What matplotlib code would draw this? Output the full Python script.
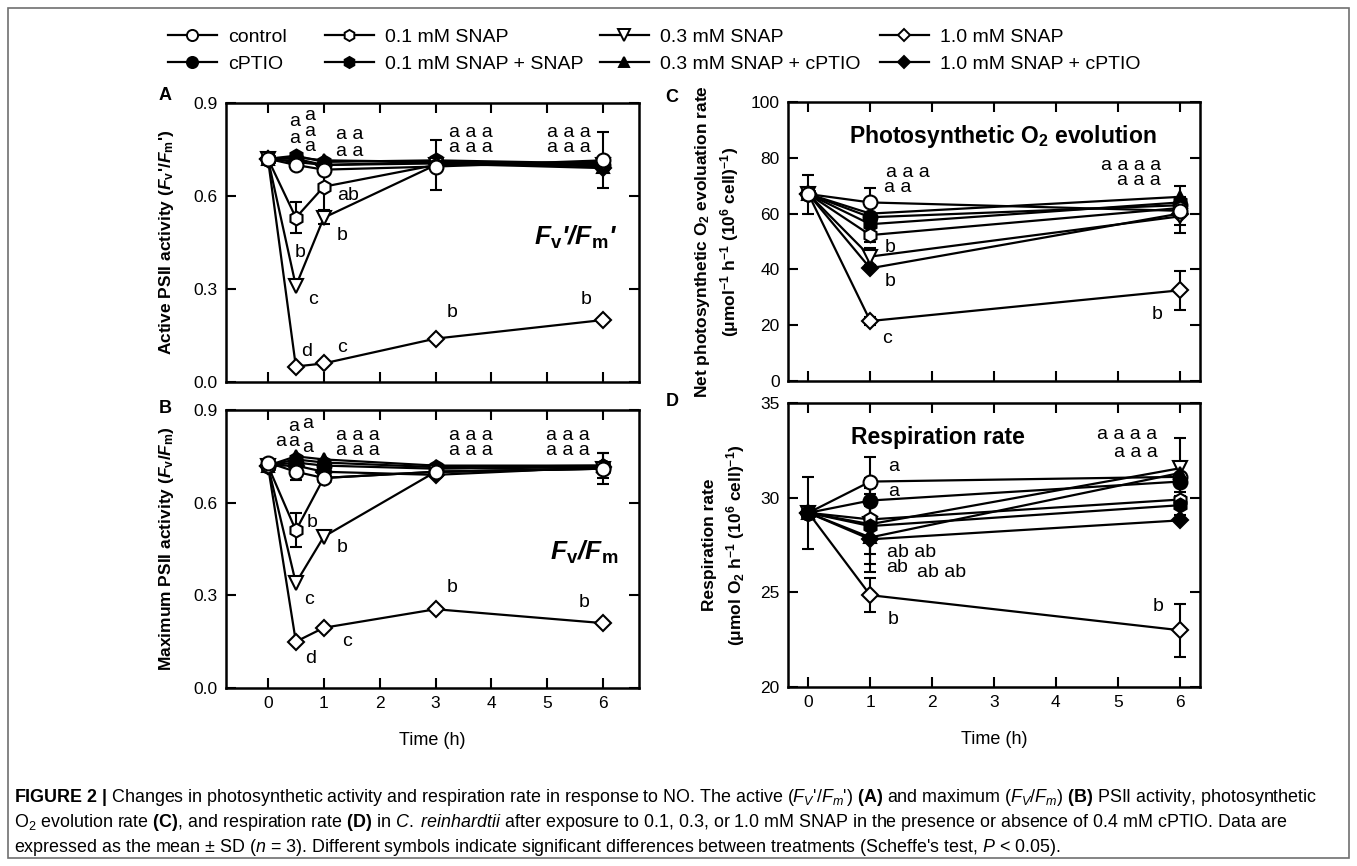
import numpy as np
import matplotlib.pyplot as plt
from matplotlib.lines import Line2D
from matplotlib.patches import Rectangle
from matplotlib import font_manager

plt.rcParams['font.family'] = ['Liberation Sans', 'DejaVu Sans']
plt.rcParams['mathtext.fontset'] = 'custom'
plt.rcParams['mathtext.rm'] = 'Liberation Sans'
plt.rcParams['mathtext.it'] = 'Liberation Sans:italic'
plt.rcParams['mathtext.bf'] = 'Liberation Sans:bold'
plt.rcParams['mathtext.bfit'] = 'Liberation Sans:italic:bold'
plt.rcParams['mathtext.sf'] = 'Liberation Sans'

# ---- data ----
keys = ['control', 'cPTIO', 'snap01', 'snap01c', 'snap03', 'snap03c', 'snap10', 'snap10c']
labels = ['control', 'cPTIO', '0.1 mM SNAP', '0.1 mM SNAP + SNAP',
          '0.3 mM SNAP', '0.3 mM SNAP + cPTIO', '1.0 mM SNAP', '1.0 mM SNAP + cPTIO']

time_ab = [0, 0.5, 1, 3, 6]
time_cd = [0, 1, 6]

# A: active PSII activity Fv'/Fm'
fvfm_act = {
    'control': [0.72, 0.70, 0.685, 0.695, 0.715],
    'cPTIO':   [0.72, 0.72, 0.70, 0.71, 0.70],
    'snap01':  [0.72, 0.53, 0.63, 0.70, 0.71],
    'snap01c': [0.72, 0.73, 0.71, 0.715, 0.705],
    'snap03':  [0.72, 0.31, 0.53, 0.70, 0.70],
    'snap03c': [0.72, 0.725, 0.715, 0.71, 0.695],
    'snap10':  [0.72, 0.05, 0.06, 0.14, 0.20],
    'snap10c': [0.72, 0.71, 0.70, 0.705, 0.69],
}
fvfm_act_err = {
    'control': [0, 0, 0, 0, 0.09],
    'snap01':  [0, 0.05, 0.075, 0.08, 0],
    'snap03':  [0, 0, 0.02, 0, 0],
}

# B: maximum PSII activity Fv/Fm
fvfm_max = {
    'control': [0.73, 0.70, 0.68, 0.70, 0.71],
    'cPTIO':   [0.72, 0.73, 0.72, 0.71, 0.715],
    'snap01':  [0.72, 0.51, 0.68, 0.70, 0.71],
    'snap01c': [0.72, 0.74, 0.73, 0.715, 0.72],
    'snap03':  [0.72, 0.34, 0.49, 0.70, 0.71],
    'snap03c': [0.72, 0.75, 0.74, 0.72, 0.72],
    'snap10':  [0.72, 0.15, 0.195, 0.255, 0.21],
    'snap10c': [0.72, 0.72, 0.70, 0.69, 0.715],
}
fvfm_max_err = {
    'control': [0, 0.025, 0.01, 0, 0.05],
    'snap01':  [0, 0.055, 0, 0, 0],
    'snap01c': [0, 0, 0, 0, 0.04],
}

# C: net photosynthetic O2 evolution
o2_evol = {
    'control': [67, 64, 61],
    'cPTIO':   [67, 58.7, 63],
    'snap01':  [67, 52.3, 62],
    'snap01c': [67, 56.2, 64],
    'snap03':  [67, 44.6, 59],
    'snap03c': [67, 60, 66],
    'snap10':  [67, 21.5, 32.5],
    'snap10c': [67, 40.4, 60],
}
o2_evol_err = {
    'control': [7, 5, 5],
    'snap01':  [0, 2.5, 0],
    'snap03':  [0, 3, 6],
    'snap03c': [0, 0, 4],
    'snap10':  [0, 1.5, 7],
}

# D: respiration rate
resp = {
    'control': [29.2, 30.85, 31.1],
    'cPTIO':   [29.2, 29.85, 30.85],
    'snap01':  [29.2, 28.85, 29.9],
    'snap01c': [29.2, 28.5, 29.6],
    'snap03':  [29.2, 28.6, 31.55],
    'snap03c': [29.2, 27.9, 31.3],
    'snap10':  [29.2, 24.85, 23.0],
    'snap10c': [29.2, 27.8, 28.8],
}
resp_err = {
    'cPTIO':   [1.9, 1.2, 0],
    'control': [0, 1.3, 0.8],
    'snap03':  [0, 1.6, 1.6],
    'snap03c': [0, 1.8, 0],
    'snap01c': [0, 2.0, 0.5],
    'snap10':  [0, 0.9, 1.4],
}

# significance letters (x, y, text)
letters_a = [(0.48, 0.840, 'a'), (0.75, 0.861, 'a'), (0.48, 0.786, 'a'), (0.75, 0.807, 'a'),
             (0.75, 0.759, 'a'), (1.46, 0.797, 'a a'), (1.46, 0.743, 'a a'),
             (3.63, 0.806, 'a a a'), (3.63, 0.755, 'a a a'), (5.38, 0.806, 'a a a'),
             (5.38, 0.755, 'a a a'), (1.43, 0.603, 'ab'), (1.32, 0.474, 'b'),
             (0.57, 0.419, 'b'), (0.80, 0.265, 'c'), (0.70, 0.097, 'd'), (1.32, 0.110, 'c'),
             (3.30, 0.223, 'b'), (5.70, 0.265, 'b')]
letters_b = [(0.46, 0.846, 'a'), (0.71, 0.857, 'a'), (0.23, 0.797, 'a'), (0.46, 0.797, 'a'),
             (0.71, 0.777, 'a'), (1.61, 0.819, 'a a a'), (1.61, 0.770, 'a a a'),
             (3.64, 0.819, 'a a a'), (3.64, 0.770, 'a a a'), (5.36, 0.819, 'a a a'),
             (5.36, 0.770, 'a a a'), (0.80, 0.537, 'b'), (1.33, 0.456, 'b'),
             (0.73, 0.285, 'c'), (1.42, 0.149, 'c'), (0.77, 0.097, 'd'),
             (3.29, 0.324, 'b'), (5.66, 0.278, 'b')]
letters_c = [(1.60, 74.9, 'a a a'), (1.44, 69.2, 'a a'), (1.32, 48.0, 'b'), (1.32, 35.5, 'b'),
             (1.27, 15.4, 'c'), (5.21, 77.4, 'a a a a'), (5.34, 72.0, 'a a a'), (5.63, 23.7, 'b')]
letters_d = [(1.37, 31.62, 'a'), (1.37, 30.30, 'a'), (1.66, 27.13, 'ab ab'), (1.44, 26.29, 'ab'),
             (2.16, 26.07, 'ab ab'), (1.37, 23.54, 'b'), (5.15, 33.31, 'a a a a'),
             (5.29, 32.41, 'a a a'), (5.65, 24.23, 'b')]

# ---- styles ----
marker = {'control': 'o', 'cPTIO': 'o', 'snap01': 'h', 'snap01c': 'h',
          'snap03': 'v', 'snap03c': '^', 'snap10': 'D', 'snap10c': 'D'}
face = {'control': 'white', 'cPTIO': 'black', 'snap01': 'white', 'snap01c': 'black',
        'snap03': 'white', 'snap03c': 'black', 'snap10': 'white', 'snap10c': 'black'}
msize = {'o': 10, 'h': 10, 'v': 10, '^': 9, 'D': 8}

W, H = 1357, 866
fig = plt.figure(figsize=(W / 100, H / 100), dpi=100)
fig.patches.append(Rectangle((8 / W, 1 - 858 / H), (1349 - 8) / W, (858 - 8) / H,
                             transform=fig.transFigure, fill=False, ec='#707070', lw=1.2))


def box(l, t, r, b):
    return [l / W, 1 - b / H, (r - l) / W, (b - t) / H]


axA = fig.add_axes(box(226, 103, 639, 382))
axB = fig.add_axes(box(226, 410, 639, 688))
axC = fig.add_axes(box(788, 102, 1200, 381))
axD = fig.add_axes(box(788, 403, 1200, 687))


def draw(ax, t, vals, errs, order):
    for k in order:
        e = np.array(errs.get(k, [0] * len(t)), dtype=float)
        idx = e > 0
        if idx.any():
            ax.errorbar(np.array(t)[idx], np.array(vals[k])[idx], yerr=e[idx], fmt='none',
                        ecolor='k', elinewidth=1.5, capsize=4, capthick=1.5, zorder=1)
        ax.plot(t, vals[k], color='k', lw=1.6, marker=marker[k], ms=msize[marker[k]],
                mfc=face[k], mec='k', mew=1.5, zorder=2, clip_on=False)


def style(ax, ylim, yticks, fmt, xlabels):
    ax.set_ylim(*ylim)
    ax.set_yticks(yticks)
    ax.set_yticklabels([fmt.format(v) for v in yticks])
    ax.set_xticks(range(7))
    if not xlabels:
        ax.set_xticklabels([])
    ax.tick_params(direction='in', top=True, right=True, length=7, width=1.5,
                   labelsize=12.5, pad=6)
    for s in ax.spines.values():
        s.set_linewidth(1.8)


order_main = ['snap10c', 'snap03c', 'snap01c', 'cPTIO', 'snap10', 'snap03', 'snap01', 'control']
order_d = ['snap10', 'snap03', 'snap01', 'control', 'snap10c', 'snap03c', 'snap01c', 'cPTIO']

draw(axA, time_ab, fvfm_act, fvfm_act_err, order_main)
draw(axB, time_ab, fvfm_max, fvfm_max_err, order_main)
draw(axC, time_cd, o2_evol, o2_evol_err, order_main)
draw(axD, time_cd, resp, resp_err, order_d)

for ax in (axA, axB):
    ax.set_xlim(-0.75, 6.64)
for ax in (axC, axD):
    ax.set_xlim(-0.33, 6.33)

style(axA, (0, 0.9), [0, 0.3, 0.6, 0.9], '{:.1f}', False)
style(axB, (0, 0.9), [0, 0.3, 0.6, 0.9], '{:.1f}', True)
style(axC, (0, 100), [0, 20, 40, 60, 80, 100], '{:d}', False)
style(axD, (20, 35), [20, 25, 30, 35], '{:d}', True)

for ax, lets in ((axA, letters_a), (axB, letters_b), (axC, letters_c), (axD, letters_d)):
    for x, y, s in lets:
        ax.text(x, y, s, ha='center', va='center', fontsize=14)

lab_kw = dict(fontsize=12.5, fontweight='bold')
axA.set_ylabel(r"Active PSII activity ($\mathbfit{F}_\mathbf{v}$'/$\mathbfit{F}_\mathbf{m}$')", **lab_kw)
axA.yaxis.set_label_coords(-0.122, 0.5)
axB.set_ylabel(r"Maximum PSII activity ($\mathbfit{F}_\mathbf{v}$/$\mathbfit{F}_\mathbf{m}$)", **lab_kw)
axB.yaxis.set_label_coords(-0.122, 0.5)
axC.set_ylabel("Net photosynthetic O$_\\mathbf{2}$ evoluation rate\n"
               "(μmol$^\\mathbf{-1}$ h$^\\mathbf{-1}$ (10$^\\mathbf{6}$ cell)$^\\mathbf{-1}$)",
               linespacing=1.4, **lab_kw)
axC.yaxis.set_label_coords(-0.113, 0.5)
axD.set_ylabel("Respiration rate\n"
               "(μmol O$_\\mathbf{2}$ h$^\\mathbf{-1}$ (10$^\\mathbf{6}$ cell)$^\\mathbf{-1}$)",
               linespacing=1.4, **lab_kw)
axD.yaxis.set_label_coords(-0.099, 0.5)

for ax in (axB, axD):
    ax.set_xlabel('Time (h)', fontsize=13)
axB.xaxis.set_label_coords(0.5, -0.158)
axD.xaxis.set_label_coords(0.5, -0.155)

axA.text(0.847, 0.52, r"$\mathbfit{F}_\mathbf{v}$'/$\mathbfit{F}_\mathbf{m}$'", transform=axA.transAxes,
         ha='center', va='center', fontsize=19, fontweight='bold', fontstyle='italic')
axB.text(0.866, 0.486, r"$\mathbfit{F}_\mathbf{v}$/$\mathbfit{F}_\mathbf{m}$", transform=axB.transAxes,
         ha='center', va='center', fontsize=19, fontweight='bold', fontstyle='italic')
axC.text(0.522, 0.875, r"Photosynthetic O$_\mathbf{2}$ evolution", transform=axC.transAxes,
         ha='center', va='center', fontsize=16.5, fontweight='bold')
axD.text(0.364, 0.877, "Respiration rate", transform=axD.transAxes,
         ha='center', va='center', fontsize=16.5, fontweight='bold')

for s, px, py in (('A', 165, 95), ('B', 165, 409), ('C', 672, 97), ('D', 672, 401)):
    fig.text(px / W, 1 - py / H, s, ha='center', va='center', fontsize=13, fontweight='bold')

# legend: one column block per concentration
col_x = [168, 325, 600, 880]
for c, x0 in enumerate(col_x):
    ks = keys[2 * c:2 * c + 2]
    hs = [Line2D([], [], color='k', lw=1.6, marker=marker[k], ms=msize[marker[k]] * 0.8,
                 mfc=face[k], mec='k', mew=1.4) for k in ks]
    fig.legend(hs, labels[2 * c:2 * c + 2], loc='upper left', bbox_to_anchor=(x0 / W, 1 - 28 / H),
               frameon=False, fontsize=14, handlelength=2.5, handletextpad=0.6,
               labelspacing=0.48, borderpad=0, borderaxespad=0)

# caption
names = {f.name for f in font_manager.fontManager.ttflist}
if 'Liberation Sans Narrow' in names:
    cap_font, cap_size = 'Liberation Sans Narrow', 13.3
else:
    cap_font, cap_size = 'Liberation Sans', 12.9
caption = [
    r"$\mathbf{FIGURE\ 2\ |}$ Changes in photosynthetic activity and respiration rate in response to NO. "
    r"The active ($F_V$'/$F_m$') $\mathbf{(A)}$ and maximum ($F_V$/$F_m$) $\mathbf{(B)}$ PSII activity, photosynthetic",
    r"O$_2$ evolution rate $\mathbf{(C)}$, and respiration rate $\mathbf{(D)}$ in $C.$$\ reinhardtii$ after "
    r"exposure to 0.1, 0.3, or 1.0 mM SNAP in the presence or absence of 0.4 mM cPTIO. Data are",
    r"expressed as the mean ± SD ($n$ = 3). Different symbols indicate significant differences between "
    r"treatments (Scheffe's test, $P$ < 0.05).",
]
for i, line in enumerate(caption):
    fig.text(14 / W, 1 - (798 + 24.5 * i) / H, line, ha='left', va='center',
             fontsize=cap_size, family=[cap_font, 'DejaVu Sans'])

fig.savefig('out.png', dpi=100)
